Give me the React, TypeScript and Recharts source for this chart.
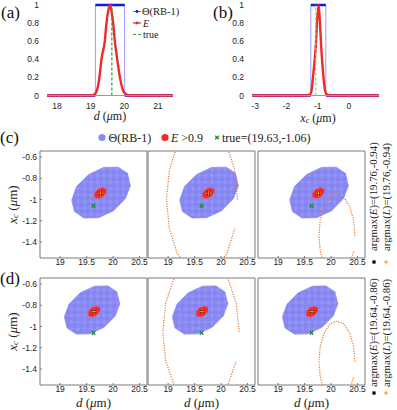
import React from "react";
import {
  LineChart, Line, XAxis, YAxis, ReferenceLine,
  ScatterChart, Scatter, ReferenceArea,
} from "recharts";

// ---- (a) marginal over d ----
const dDomain = [17.7, 21.45];
const dTicks = [18, 19, 20, 21];
const probTicks = [0, 0.2, 0.4, 0.6, 0.8, 1];
const thetaD = [
  { x: 17.7, y: 0 }, { x: 19.14, y: 0 }, { x: 19.14, y: 1 },
  { x: 20.01, y: 1 }, { x: 20.01, y: 0 }, { x: 21.45, y: 0 },
];
const energyD = [
  { x: 17.7, y: 0 }, { x: 19.0, y: 0 }, { x: 19.1, y: 0.01 }, { x: 19.18, y: 0.05 },
  { x: 19.26, y: 0.2 }, { x: 19.32, y: 0.4 }, { x: 19.42, y: 0.6 }, { x: 19.47, y: 0.8 },
  { x: 19.52, y: 0.93 }, { x: 19.57, y: 1 }, { x: 19.62, y: 0.93 }, { x: 19.67, y: 0.8 },
  { x: 19.72, y: 0.6 }, { x: 19.79, y: 0.4 }, { x: 19.87, y: 0.2 }, { x: 19.97, y: 0.05 },
  { x: 20.06, y: 0.01 }, { x: 20.15, y: 0 }, { x: 21.45, y: 0 },
];
const trueD = 19.63;

// ---- (b) marginal over x_c ----
const xcDomain = [-3.1, 0.96];
const xcTicks = [-3, -2, -1, 0];
const thetaXc = [
  { x: -3.1, y: 0 }, { x: -1.22, y: 0 }, { x: -1.22, y: 1 },
  { x: -0.74, y: 1 }, { x: -0.74, y: 0 }, { x: 0.96, y: 0 },
];
const energyXc = [
  { x: -3.1, y: 0 }, { x: -1.35, y: 0 }, { x: -1.25, y: 0.01 }, { x: -1.2, y: 0.05 },
  { x: -1.15, y: 0.2 }, { x: -1.1, y: 0.38 }, { x: -1.06, y: 0.55 }, { x: -1.02, y: 0.82 },
  { x: -0.97, y: 1 }, { x: -0.93, y: 0.82 }, { x: -0.89, y: 0.55 }, { x: -0.85, y: 0.35 },
  { x: -0.81, y: 0.18 }, { x: -0.76, y: 0.05 }, { x: -0.7, y: 0.01 }, { x: -0.6, y: 0 },
  { x: 0.96, y: 0 },
];
const trueXc = -1.06;

// ---- (c),(d) joint maps ----
const mapX = [18.62, 20.64];
const mapY = [-1.551, -0.543];
const mapXTicks = [19, 19.5, 20, 20.5];
const mapYTicks = [-1.4, -1.2, -1, -0.8, -0.6];

const thetaC = [
  { x: 20.28, y: -0.756 }, { x: 20.095, y: -0.695 }, { x: 19.82, y: -0.698 },
  { x: 19.54, y: -0.765 }, { x: 19.31, y: -0.877 }, { x: 19.22, y: -1.005 },
  { x: 19.27, y: -1.113 }, { x: 19.45, y: -1.174 }, { x: 19.725, y: -1.171 },
  { x: 20.01, y: -1.105 }, { x: 20.23, y: -0.992 }, { x: 20.33, y: -0.865 },
];
const thetaDrow = [
  { x: 20.08, y: -0.677 }, { x: 19.905, y: -0.618 }, { x: 19.65, y: -0.62 },
  { x: 19.38, y: -0.683 }, { x: 19.17, y: -0.788 }, { x: 19.08, y: -0.909 },
  { x: 19.13, y: -1.013 }, { x: 19.305, y: -1.071 }, { x: 19.56, y: -1.069 },
  { x: 19.83, y: -1.007 }, { x: 20.04, y: -0.901 }, { x: 20.13, y: -0.781 },
];
const highC = [
  { x: 19.87, y: -0.901 }, { x: 19.8, y: -0.888 }, { x: 19.71, y: -0.904 },
  { x: 19.65, y: -0.941 }, { x: 19.65, y: -0.977 }, { x: 19.72, y: -0.991 },
  { x: 19.81, y: -0.974 }, { x: 19.87, y: -0.937 },
];
const highD = [
  { x: 19.75, y: -0.821 }, { x: 19.68, y: -0.808 }, { x: 19.59, y: -0.824 },
  { x: 19.53, y: -0.861 }, { x: 19.53, y: -0.897 }, { x: 19.6, y: -0.911 },
  { x: 19.69, y: -0.894 }, { x: 19.75, y: -0.857 },
];
const likeC2 = [
  { x: 20.31, y: -1.0 }, { x: 20.259, y: -0.728 }, { x: 20.114, y: -0.498 },
  { x: 19.897, y: -0.344 }, { x: 19.64, y: -0.29 }, { x: 19.383, y: -0.344 },
  { x: 19.166, y: -0.498 }, { x: 19.021, y: -0.728 }, { x: 18.97, y: -1.0 },
  { x: 19.021, y: -1.272 }, { x: 19.166, y: -1.502 }, { x: 19.383, y: -1.656 },
  { x: 19.64, y: -1.71 }, { x: 19.897, y: -1.656 }, { x: 20.114, y: -1.502 },
  { x: 20.259, y: -1.272 },
];
const likeC3 = [
  { x: 20.45, y: -1.34 }, { x: 20.424, y: -1.191 }, { x: 20.35, y: -1.064 },
  { x: 20.24, y: -0.98 }, { x: 20.11, y: -0.95 }, { x: 19.98, y: -0.98 },
  { x: 19.87, y: -1.064 }, { x: 19.796, y: -1.191 }, { x: 19.77, y: -1.34 },
  { x: 19.796, y: -1.489 }, { x: 19.87, y: -1.616 }, { x: 19.98, y: -1.7 },
  { x: 20.11, y: -1.73 }, { x: 20.24, y: -1.7 }, { x: 20.35, y: -1.616 },
  { x: 20.424, y: -1.489 },
];
const likeD2 = [
  { x: 20.34, y: -1.05 }, { x: 20.285, y: -0.778 }, { x: 20.129, y: -0.548 },
  { x: 19.896, y: -0.394 }, { x: 19.62, y: -0.34 }, { x: 19.344, y: -0.394 },
  { x: 19.111, y: -0.548 }, { x: 18.955, y: -0.778 }, { x: 18.9, y: -1.05 },
  { x: 18.955, y: -1.322 }, { x: 19.111, y: -1.552 }, { x: 19.344, y: -1.706 },
  { x: 19.62, y: -1.76 }, { x: 19.896, y: -1.706 }, { x: 20.129, y: -1.552 },
  { x: 20.285, y: -1.322 },
];
const likeD3 = [
  { x: 20.45, y: -1.33 }, { x: 20.424, y: -1.185 }, { x: 20.35, y: -1.06 },
  { x: 20.24, y: -0.975 }, { x: 20.11, y: -0.95 }, { x: 19.98, y: -0.975 },
  { x: 19.87, y: -1.06 }, { x: 19.796, y: -1.185 }, { x: 19.77, y: -1.33 },
  { x: 19.796, y: -1.475 }, { x: 19.87, y: -1.6 }, { x: 19.98, y: -1.685 },
  { x: 20.11, y: -1.71 }, { x: 20.24, y: -1.685 }, { x: 20.35, y: -1.6 },
  { x: 20.424, y: -1.475 },
];
const truePoint = [{ x: 19.63, y: -1.06 }];
const argmaxC = [{ x: 19.76, y: -0.94 }];
const argmaxD = [{ x: 19.64, y: -0.86 }];

const BLUE = "#8a8af5";
const RED = "#ee2a2a";
const GREEN = "#1f8a3a";
const ORANGE = "#f2a01c";
const SERIF = "Liberation Serif, serif";
const tickStyle = { fontSize: 8.5, fill: "#222", fontFamily: "Liberation Sans, Arial, sans-serif" };

// keep only flat runs of a step curve (verticals become gaps)
const flatOnly = (pts: any[]) =>
  pts.flatMap((p, i) => (i > 0 && pts[i - 1].y !== p.y ? [{ x: p.x, y: null }, p] : [p]));

function Marginal({ left, width, plotLeft, plotRight, domain, ticks, theta, energy, truth, trueColor }: any) {
  return (
    <div style={{ position: "absolute", left, top: 0 }}>
      <LineChart width={width} height={125}
        margin={{ top: 5, bottom: 28.5, left: plotLeft - left - 1, right: width - (plotRight - left) }}>
        <XAxis type="number" dataKey="x" domain={domain} ticks={ticks} height={1} interval={0}
          axisLine={{ stroke: "#999" }} tickLine={false} tickMargin={1} tick={tickStyle} />
        <YAxis type="number" domain={[0, 1]} ticks={probTicks} width={1} interval={0}
          axisLine={false} tickLine={false} tickMargin={2} tick={tickStyle} />
        <Line data={theta} dataKey="y" stroke="#9d9dff" strokeWidth={1} dot={false} isAnimationActive={false} />
        <Line data={flatOnly(theta)} dataKey="y" stroke="#1515ee" strokeWidth={2.4} dot={false}
          connectNulls={false} isAnimationActive={false} />
        <Line data={energy} dataKey="y" type="monotone" stroke={RED} strokeWidth={2.4} dot={false} isAnimationActive={false} />
        <ReferenceLine segment={[{ x: truth, y: 0 }, { x: truth, y: 1 }]} stroke={trueColor}
          strokeWidth={1.2} strokeDasharray="3 2" />
      </LineChart>
    </div>
  );
}

const greenX = (p: any) => (
  <g stroke={GREEN} strokeWidth={1.3}>
    <line x1={p.cx - 1.8} y1={p.cy - 1.8} x2={p.cx + 1.8} y2={p.cy + 1.8} />
    <line x1={p.cx - 1.8} y1={p.cy + 1.8} x2={p.cx + 1.8} y2={p.cy - 1.8} />
  </g>
);
const blackSq = (p: any) => <rect x={p.cx - 1.6} y={p.cy - 1.6} width={3.2} height={3.2} fill="#000" />;
const orangePlus = (p: any) => (
  <g stroke={ORANGE} strokeWidth={1}>
    <line x1={p.cx - 2.2} y1={p.cy} x2={p.cx + 2.2} y2={p.cy} />
    <line x1={p.cx} y1={p.cy - 2.2} x2={p.cx} y2={p.cy + 2.2} />
  </g>
);
const none = () => <g />;

function MapPanel({ left, top, theta, high, like, argmax, yTicks }: any) {
  const size = 107;
  return (
    <div style={{ position: "absolute", left: left - 40, top: top - 8 }}>
      <ScatterChart width={size + 48} height={size + 32} margin={{ top: 8, right: 8, bottom: 23, left: 39 }}>
        <XAxis type="number" dataKey="x" domain={mapX} ticks={mapXTicks} allowDataOverflow height={1} interval={0}
          axisLine={false} tickLine={{ stroke: "#777" }} tickSize={-2} tickMargin={3} tick={tickStyle} />
        <YAxis type="number" dataKey="y" domain={mapY} ticks={mapYTicks} allowDataOverflow width={1} interval={0}
          axisLine={false} tickLine={{ stroke: "#777" }} tickSize={-2} tickMargin={5}
          tick={yTicks ? tickStyle : false} />
        <Scatter data={theta} shape={none} line={{ fill: "url(#thetaTex)", stroke: BLUE, strokeWidth: 0.8 }}
          lineJointType="catmullRomClosed" isAnimationActive={false} />
        <Scatter data={high} shape={none} line={{ fill: RED, stroke: "#f05050", strokeWidth: 0.8 }}
          lineJointType="catmullRomClosed" isAnimationActive={false} />
        {like && (
          <Scatter data={like} shape={none}
            line={{ fill: "none", stroke: "#e07a35", strokeWidth: 1.2, strokeDasharray: "1.2 1.3" }}
            lineJointType="catmullRomClosed" isAnimationActive={false} />
        )}
        <Scatter data={truePoint} shape={greenX} isAnimationActive={false} />
        <Scatter data={argmax} shape={blackSq} isAnimationActive={false} />
        <Scatter data={argmax} shape={orangePlus} isAnimationActive={false} />
        <ReferenceArea x1={mapX[0]} x2={mapX[1]} y1={mapY[0]} y2={mapY[1]} fill="none" stroke="#7a7a7a" strokeWidth={1} />
      </ScatterChart>
    </div>
  );
}

const Xc = ({ x, y, rotate, size = 13 }: any) => (
  <text transform={`translate(${x},${y})${rotate ? " rotate(-90)" : ""}`} textAnchor="middle"
    dominantBaseline="central" fontSize={size} fontFamily={SERIF} fill="#222">
    <tspan fontStyle="italic">x</tspan>
    <tspan fontStyle="italic" fontSize={size * 0.7} dy={2.5}>c</tspan>
    <tspan dy={-2.5}> (</tspan><tspan fontStyle="italic">μ</tspan>m)
  </text>
);
const Dlab = ({ x, y, size = 13 }: any) => (
  <text x={x} y={y} textAnchor="middle" dominantBaseline="central" fontSize={size} fontFamily={SERIF} fill="#222">
    <tspan fontStyle="italic">d</tspan> (<tspan fontStyle="italic">μ</tspan>m)
  </text>
);
const Argmax = ({ x, y, name, val }: any) => (
  <text transform={`translate(${x},${y}) rotate(-90)`} dominantBaseline="central" fontSize={10.8}
    fontFamily={SERIF} fill="#222">
    argmax(<tspan fontStyle="italic">{name}</tspan>)={val}
  </text>
);

function Overlay() {
  return (
    <svg width={397} height={410} style={{ position: "absolute", left: 0, top: 0, pointerEvents: "none" }}>
      <defs>
        <pattern id="thetaTex" patternUnits="userSpaceOnUse" width={6.5} height={6.5}>
          <rect width={6.5} height={6.5} fill="#9797f8" />
          <circle cx={3.25} cy={3.25} r={3.1} fill="#8686f2" />
        </pattern>
      </defs>
      <g fontFamily={SERIF} fill="#111">
        <text x={1} y={12} fontSize={17} dominantBaseline="central">(a)</text>
        <text x={213} y={12} fontSize={17} dominantBaseline="central">(b)</text>
        <text x={0} y={137.5} fontSize={17} dominantBaseline="central">(c)</text>
        <text x={0} y={278.5} fontSize={17} dominantBaseline="central">(d)</text>
      </g>
      {/* legend (a) */}
      <g fontFamily={SERIF} fontSize={10} fill="#222">
        <line x1={133} y1={11.5} x2={141} y2={11.5} stroke="#5a5aff" strokeWidth={1} />
        <circle cx={137} cy={11.5} r={1.4} fill="#1515ee" />
        <text x={142} y={11.5} dominantBaseline="central" fontSize={10.5}>Θ(RB-1)</text>
        <line x1={133} y1={23} x2={141} y2={23} stroke={RED} strokeWidth={1.3} />
        <circle cx={137} cy={23} r={1.4} fill={RED} />
        <text x={143} y={23} dominantBaseline="central" fontStyle="italic">E</text>
        <line x1={133} y1={34.5} x2={141} y2={34.5} stroke="#2ca02c" strokeWidth={1.2} strokeDasharray="3 2" />
        <text x={143} y={34.5} dominantBaseline="central">true</text>
      </g>
      <Dlab x={110} y={116} size={12} />
      <Xc x={318} y={117.5} size={12} />
      {/* legend (c)/(d) */}
      <g fontFamily={SERIF} fontSize={12} fill="#222">
        <circle cx={102} cy={137.5} r={3.6} fill={BLUE} />
        <text x={108.5} y={137.5} dominantBaseline="central">Θ(RB-1)</text>
        <circle cx={165} cy={137.5} r={3.6} fill={RED} />
        <text x={171} y={137.5} dominantBaseline="central"><tspan fontStyle="italic">E</tspan> &gt;0.9</text>
        {greenX({ cx: 217, cy: 137.5 })}
        <text x={222} y={137.5} dominantBaseline="central">true=(19.63,-1.06)</text>
      </g>
      <Xc x={12} y={204.5} rotate />
      <Xc x={12} y={331.5} rotate />
      <Dlab x={93.5} y={402} />
      <Dlab x={201.5} y={402} />
      <Dlab x={311.5} y={402} />
      <Argmax x={373} y={251} name="E" val="(19.76,-0.94)" />
      <Argmax x={386} y={251} name="L" val="(19.76,-0.94)" />
      {blackSq({ cx: 374, cy: 262 })}
      {orangePlus({ cx: 386, cy: 262 })}
      <Argmax x={373} y={387} name="E" val="(19.64,-0.86)" />
      <Argmax x={386} y={387} name="L" val="(19.64,-0.86)" />
      {blackSq({ cx: 374, cy: 393 })}
      {orangePlus({ cx: 386, cy: 393 })}
    </svg>
  );
}

export default function App() {
  return (
    <div style={{ position: "absolute", left: 0, top: 0, width: 397, height: 410, background: "#fff" }}>
      <Marginal left={0} width={200} plotLeft={47} plotRight={173} domain={dDomain} ticks={dTicks}
        theta={thetaD} energy={energyD} truth={trueD} trueColor="#2ca02c" />
      <Marginal left={190} width={207} plotLeft={252} plotRight={379} domain={xcDomain} ticks={xcTicks}
        theta={thetaXc} energy={energyXc} truth={trueXc} trueColor="#8fd08f" />
      <MapPanel left={40} top={151} theta={thetaC} high={highC} argmax={argmaxC} yTicks />
      <MapPanel left={148} top={151} theta={thetaC} high={highC} like={likeC2} argmax={argmaxC} />
      <MapPanel left={258} top={151} theta={thetaC} high={highC} like={likeC3} argmax={argmaxC} />
      <MapPanel left={40} top={278} theta={thetaDrow} high={highD} argmax={argmaxD} yTicks />
      <MapPanel left={148} top={278} theta={thetaDrow} high={highD} like={likeD2} argmax={argmaxD} />
      <MapPanel left={258} top={278} theta={thetaDrow} high={highD} like={likeD3} argmax={argmaxD} />
      <Overlay />
    </div>
  );
}
